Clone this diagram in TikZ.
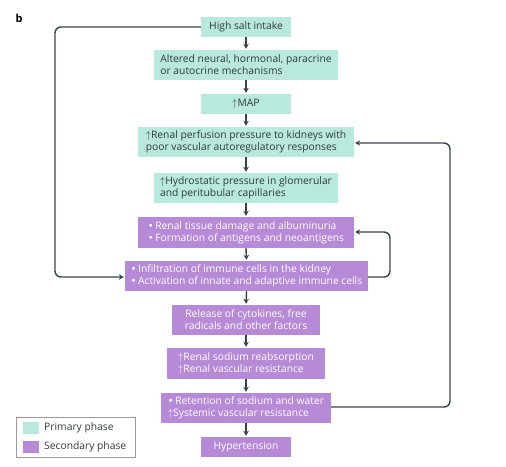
\documentclass[tikz,border=0pt]{standalone}
\usepackage{fontspec}
\setmainfont{Open Sans}
\newfontfamily\dejavu{DejaVu Sans}
\usetikzlibrary{arrows.meta}
\definecolor{teal1}{HTML}{B9E8DE}
\definecolor{purp1}{HTML}{B78AD8}
\definecolor{txtdark}{HTML}{2E3A3E}
\definecolor{lineC}{HTML}{3A4448}
\definecolor{legC}{HTML}{9A9A9A}
\newcommand{\up}{{\fontsize{10.3}{10}\selectfont$\uparrow$}\hspace{0.3pt}}
\newcommand{\bul}{{\dejavu\fontsize{10}{10}\selectfont•}\hspace{1.5pt}}
\begin{document}
\begin{tikzpicture}[x=1pt,y=-1pt,
  box/.style={inner sep=0pt,font=\fontsize{10.3}{12}\selectfont,align=left,anchor=center},
  pbox/.style={box,fill=teal1,text=txtdark},
  sbox/.style={box,fill=purp1,text=white},
  conn/.style={draw=lineC,line width=1.4pt,-{Stealth[length=5pt,width=5.5pt]},shorten >=1pt},
  loopc/.style={conn,rounded corners=6pt}]
\useasboundingbox (0,0) rectangle (506,466);
\node[font=\bfseries\fontsize{11}{12}\selectfont,text=black] (b) at (19,18) {b};
\node[pbox,minimum width=90pt,minimum height=20pt] (n1) at (246,27) {High salt intake};
\node[pbox,minimum width=184pt,minimum height=30pt] (n2) at (246,65) {Altered neural, hormonal, paracrine\\or autocrine mechanisms};
\node[pbox,minimum width=90pt,minimum height=20pt] (n3) at (246,104) {\up MAP};
\node[pbox,minimum width=216pt,minimum height=30pt] (n4) at (246,142) {\up Renal perfusion pressure to kidneys with\\poor vascular autoregulatory responses};
\node[pbox,minimum width=184pt,minimum height=30pt] (n5) at (246,188) {\up Hydrostatic pressure in glomerular\\and peritubular capillaries};
\node[sbox,minimum width=216pt,minimum height=31pt] (n6) at (246,232.5) {\bul Renal tissue damage and albuminuria\\\bul Formation of antigens and neoantigens};
\node[sbox,minimum width=243pt,minimum height=30pt] (n7) at (246.5,276) {\bul Infiltration of immune cells in the kidney\\\bul Activation of innate and adaptive immune cells};
\node[sbox,minimum width=148pt,minimum height=30pt,align=center] (n8) at (246,320) {Release of cytokines, free\\radicals and other factors};
\node[sbox,minimum width=158pt,minimum height=31pt] (n9) at (246,363.5) {\up Renal sodium reabsorption\\\up Renal vascular resistance};
\node[sbox,minimum width=170pt,minimum height=30pt] (n10) at (246,408) {\bul Retention of sodium and water\\\up Systemic vascular resistance};
\node[sbox,minimum width=90pt,minimum height=20pt] (n11) at (246,447) {Hypertension};
\foreach \a/\b in {n1/n2,n2/n3,n3/n4,n4/n5,n5/n6,n6/n7,n7/n8,n8/n9,n9/n10,n10/n11}
  \draw[conn] (\a.south) -- (\b.north);
\coordinate (l1) at (55,27);
\coordinate (l2) at (55,277);
\draw[loopc] (n1.west) -- (l1) -- (l2) -- (n7.west |- l2);
\coordinate (s1) at (390,277);
\coordinate (s2) at (390,232);
\draw[loopc] (n7.east |- s1) -- (s1) -- (s2) -- (n6.east |- s2);
\coordinate (r1) at (450,407);
\coordinate (r2) at (450,143);
\draw[loopc] (n10.east |- r1) -- (r1) -- (r2) -- (n4.east |- r2);
% legend
\node[draw=legC,line width=0.8pt,minimum width=119pt,minimum height=40pt,inner sep=0pt] (leg) at (75.5,437) {};
\node[fill=teal1,minimum width=16pt,minimum height=12pt,inner sep=0pt] (sw1) at (31,428) {};
\node[fill=purp1,minimum width=16pt,minimum height=12pt,inner sep=0pt] (sw2) at (31,446.5) {};
\node[box,text=txtdark,anchor=west] (lt1) at (44,428) {Primary phase};
\node[box,text=txtdark,anchor=west] (lt2) at (44,446.5) {Secondary phase};
\end{tikzpicture}
\end{document}
